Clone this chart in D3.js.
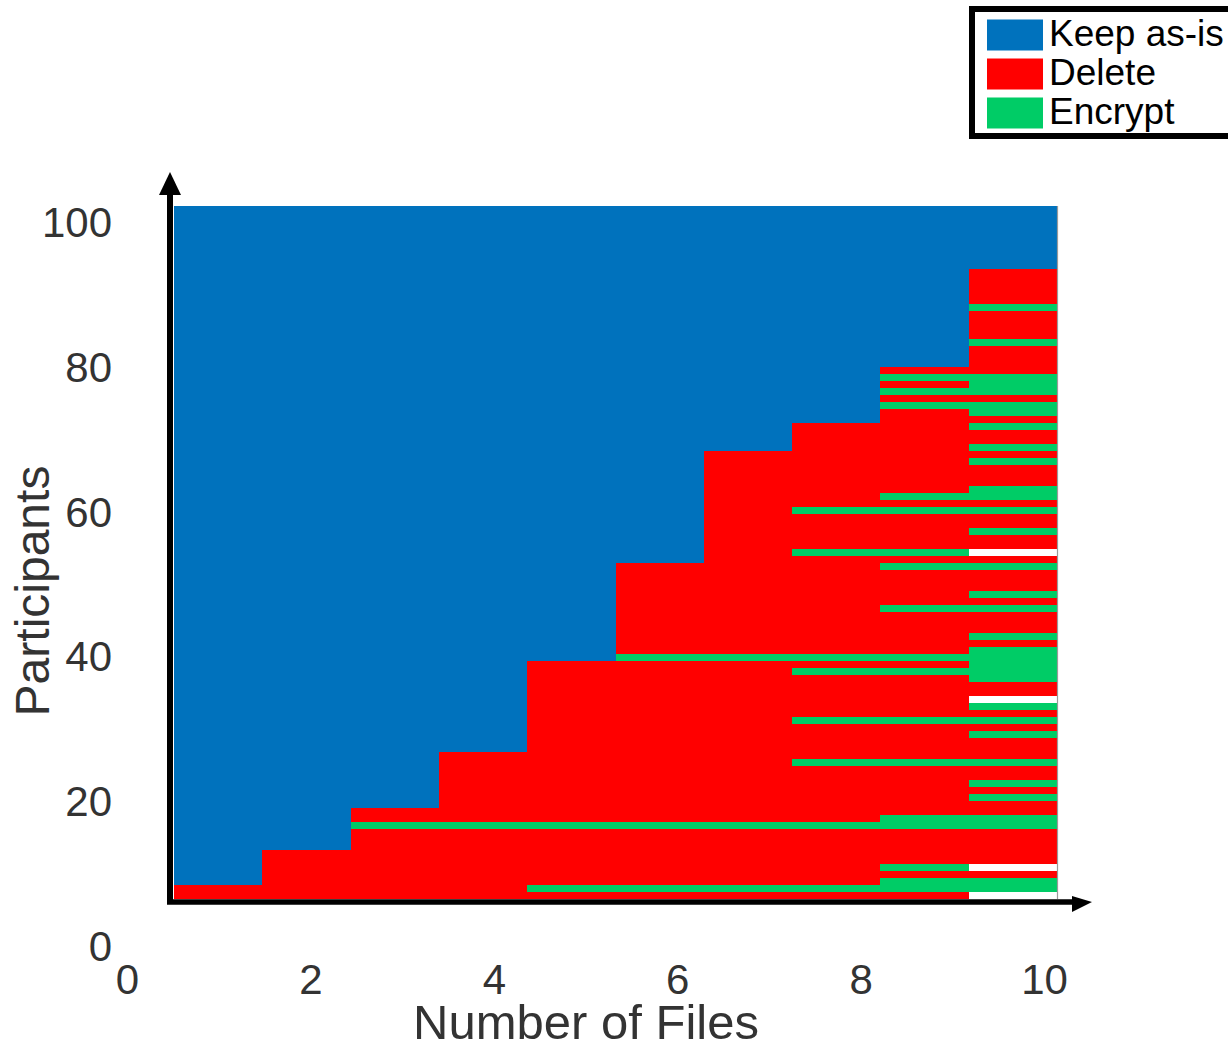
<!DOCTYPE html>
<html>
<head>
<meta charset="utf-8">
<script src="https://cdn.jsdelivr.net/npm/d3@7"></script>
<style>
  body { margin: 0; background: #fff; }
  svg { display: block; font-family: "Liberation Sans", Arial, Helvetica, sans-serif; }
</style>
</head>
<body>
<div id="vis"></div>
<script>
const FRAME_WIDTH = 1228;
const FRAME_HEIGHT = 1050;

// number of files shown (one column each)
const FILES = [1, 2, 3, 4, 5, 6, 7, 8, 9, 10];
const N_PARTICIPANTS = 99;

// participants (counted from the bottom) who did not keep the files as-is
const CHANGED = [2, 7, 13, 21, 34, 48, 64, 68, 76, 90];

// participants who chose to encrypt, per column
const ENCRYPT = [
  [],
  [],
  [11],
  [11],
  [11, 2],
  [35, 11, 2],
  [35, 11, 2],
  [56, 50, 35, 33, 26, 20, 11, 2],
  [75, 73, 71, 58, 56, 50, 48, 42, 35, 33, 26, 20, 12, 11, 5, 3, 2],
  [85, 80, 75, 74, 73, 71, 70, 68, 65, 63, 59, 58, 56, 53, 48, 44, 42, 38, 36,
   35, 34, 33, 32, 28, 26, 24, 20, 17, 15, 12, 11, 3, 2]
];

// no answer recorded (drawn white)
const NO_ANSWER = [[], [], [], [], [], [], [], [], [], [50, 29, 5, 1]];

const CATEGORIES = ['Keep as-is', 'Delete', 'Encrypt'];
const COLORS = ['#0072BD', '#FF0000', '#00CC66'];

const X_TICKS = [0, 2, 4, 6, 8, 10];
const Y_TICKS = [0, 20, 40, 60, 80, 100];

const FRAME = d3.select('#vis')
  .append('svg')
  .attr('width', FRAME_WIDTH)
  .attr('height', FRAME_HEIGHT);

const COLOR = d3.scaleOrdinal()
  .domain(CATEGORIES.concat(['none']))
  .range(COLORS.concat(['#ffffff']));

// cell scales
const X_BAND = d3.scaleBand().domain(FILES).range([174, 1057]);
const Y_BAND = d3.scaleBand()
  .domain(d3.range(1, N_PARTICIPANTS + 1))
  .range([899, 206]);

// tick label scales
const X_SCALE = d3.scaleLinear().domain([0, 10]).range([127, 1044]);
const Y_SCALE = d3.scaleLinear().domain([0, 100]).range([945, 221.5]);

function choice(col, p) {
  if (p > CHANGED[col]) return 'Keep as-is';
  if (ENCRYPT[col].includes(p)) return 'Encrypt';
  if (NO_ANSWER[col].includes(p)) return 'none';
  return 'Delete';
}

// group each column into runs of equal choice
const runs = [];
FILES.forEach((f, col) => {
  let start = 1;
  let cur = choice(col, 1);
  for (let p = 2; p <= N_PARTICIPANTS + 1; p++) {
    const c = p <= N_PARTICIPANTS ? choice(col, p) : null;
    if (c !== cur) {
      runs.push({ file: f, from: start, to: p - 1, cat: cur });
      start = p;
      cur = c;
    }
  }
});

FRAME.append('g')
  .selectAll('rect')
  .data(runs)
  .enter()
  .append('rect')
  .attr('x', d => X_BAND(d.file))
  .attr('y', d => Y_BAND(d.to))
  .attr('width', X_BAND.bandwidth() + 0.5)
  .attr('height', d => Y_BAND(d.from) + Y_BAND.bandwidth() - Y_BAND(d.to))
  .attr('fill', d => COLOR(d.cat))
  .attr('shape-rendering', 'crispEdges');

// thin edge at the right of the image
FRAME.append('line')
  .attr('x1', X_BAND.range()[1] + 0.5)
  .attr('x2', X_BAND.range()[1] + 0.5)
  .attr('y1', 206)
  .attr('y2', 899)
  .attr('stroke', '#9a9a9a')
  .attr('stroke-width', 1.2);

// arrow axes
FRAME.append('line')
  .attr('x1', 170).attr('y1', 904)
  .attr('x2', 170).attr('y2', 190)
  .attr('stroke', '#000').attr('stroke-width', 6);
FRAME.append('path')
  .attr('d', 'M159,195 L170,172 L181,195 Z')
  .attr('fill', '#000');

FRAME.append('line')
  .attr('x1', 167).attr('y1', 902)
  .attr('x2', 1076).attr('y2', 902)
  .attr('stroke', '#000').attr('stroke-width', 5.5);
FRAME.append('path')
  .attr('d', 'M1072,896 L1092,902 L1072,912 Z')
  .attr('fill', '#000');

// tick labels
const xAxis = FRAME.append('g')
  .attr('transform', 'translate(0,964)')
  .call(d3.axisBottom(X_SCALE).tickValues(X_TICKS).tickSize(0).tickPadding(0));
xAxis.select('.domain').remove();
xAxis.selectAll('text')
  .attr('font-size', 42)
  .attr('font-family', '"Liberation Sans", Arial, sans-serif')
  .attr('fill', '#333');

const yAxis = FRAME.append('g')
  .attr('transform', 'translate(114,0)')
  .call(d3.axisLeft(Y_SCALE).tickValues(Y_TICKS).tickSize(0).tickPadding(2));
yAxis.select('.domain').remove();
yAxis.selectAll('text')
  .attr('font-size', 42)
  .attr('dy', '0.36em')
  .attr('font-family', '"Liberation Sans", Arial, sans-serif')
  .attr('fill', '#333');

// axis titles
FRAME.append('text')
  .attr('x', 586)
  .attr('y', 1039)
  .attr('text-anchor', 'middle')
  .attr('font-size', 49)
  .attr('fill', '#333')
  .text('Number of Files');

FRAME.append('text')
  .attr('transform', 'translate(49,591) rotate(-90)')
  .attr('text-anchor', 'middle')
  .attr('font-size', 48)
  .attr('fill', '#333')
  .text('Participants');

// legend
const LEGEND = FRAME.append('g');
LEGEND.append('rect')
  .attr('x', 972).attr('y', 9)
  .attr('width', 280).attr('height', 127)
  .attr('fill', '#fff')
  .attr('stroke', '#000')
  .attr('stroke-width', 6);

const item = LEGEND.selectAll('g.item')
  .data(CATEGORIES)
  .enter()
  .append('g')
  .attr('class', 'item')
  .attr('transform', (d, i) => 'translate(987,' + (19.5 + i * 39) + ')');

item.append('rect')
  .attr('width', 56)
  .attr('height', 31)
  .attr('fill', d => COLOR(d));

item.append('text')
  .attr('x', 62)
  .attr('y', 26)
  .attr('font-size', 37)
  .attr('fill', '#000')
  .text(d => d);
</script>
</body>
</html>
